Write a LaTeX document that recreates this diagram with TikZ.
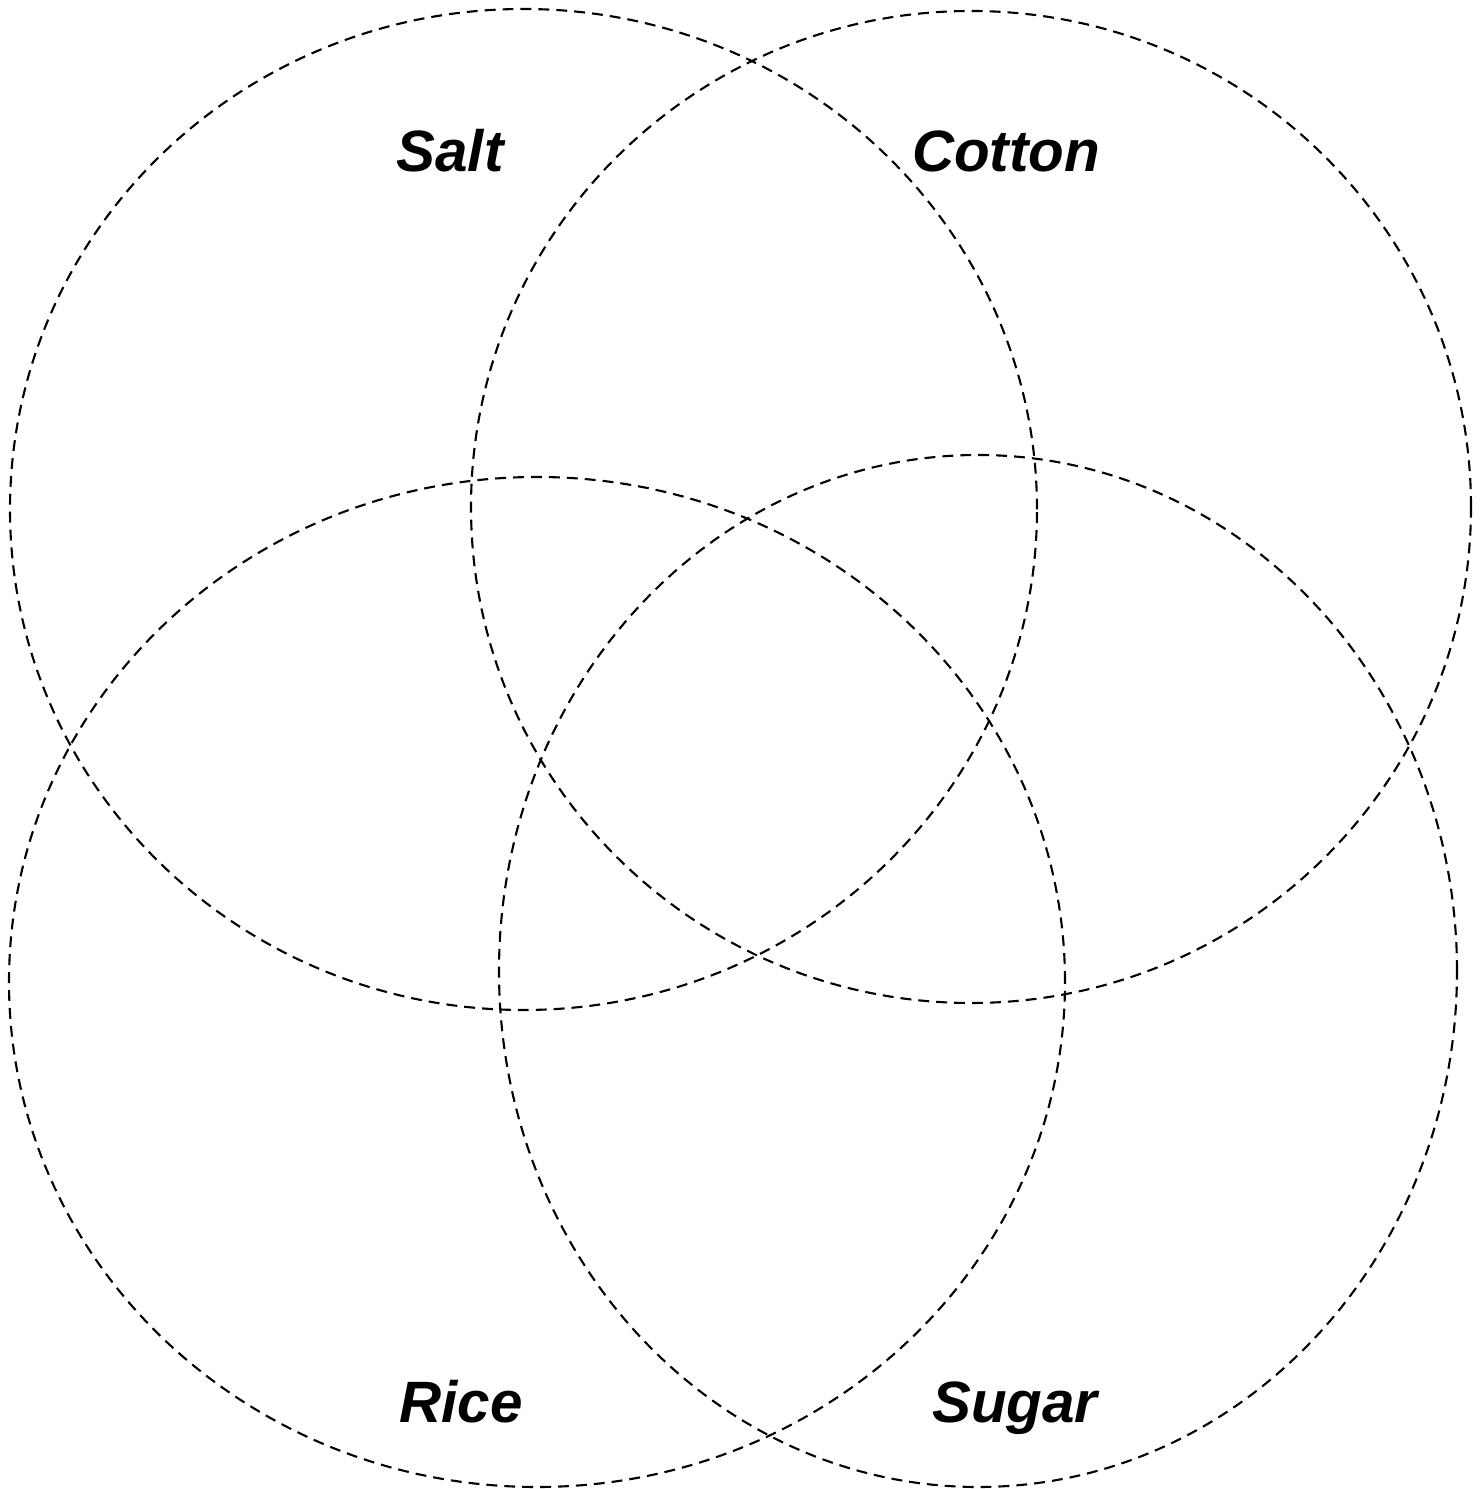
\documentclass[tikz,border=0pt]{standalone}
\usepackage{fontspec}
\setmainfont{Liberation Sans}
\usepackage{tikz}
\usetikzlibrary{positioning,shapes.geometric}
\tikzset{
  setring/.style={ellipse,draw,line width=0.6pt,dash pattern=on 3.1pt off 2pt,inner sep=0pt,outer sep=0pt},
  setname/.style={anchor=base,inner sep=0pt,font=\fontsize{16.6pt}{19pt}\selectfont\bfseries\itshape}
}

\begin{document}
\begin{tikzpicture}
  \useasboundingbox (0,0) rectangle (14.84,14.89);
  % the four sets
  \node[setring,minimum width=10.27cm,minimum height=10.01cm] (salt) at (5.235,9.795) {};
  \node[setring,minimum width=10.00cm,minimum height=9.92cm] (cotton) at (9.71,9.82) {};
  \node[setring,minimum width=10.56cm,minimum height=10.10cm] (rice) at (5.37,5.07) {};
  \node[setring,minimum width=9.58cm,minimum height=10.32cm] (sugar) at (9.78,5.18) {};

  % names
  \node[setname] (saltname) at (4.50,13.17) {Salt};
  \node[setname] (cottonname) at (10.06,13.17) {Cotton};
  \node[setname] (ricename) at (4.61,0.66) {Rice};
  \node[setname] (sugarname) at (10.15,0.66) {Sugar};
\end{tikzpicture}
\end{document}
